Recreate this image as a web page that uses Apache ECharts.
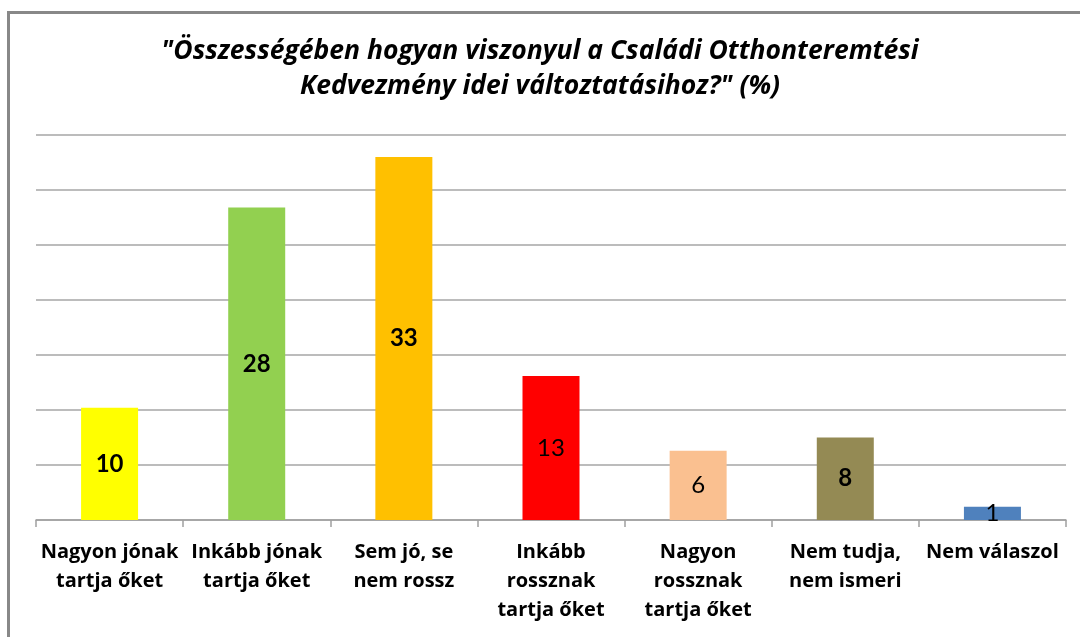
<!DOCTYPE html>
<html>
<head>
<meta charset="utf-8">
<script src="https://cdn.jsdelivr.net/npm/echarts@6/dist/echarts.min.js"></script>
<style>
  html, body { margin: 0; padding: 0; background: #fff; }
  #chart { width: 1080px; height: 637px; }
</style>
</head>
<body>
<div id="chart"></div>
<script>
const titleText = '"Összességében hogyan viszonyul a Családi Otthonteremtési\nKedvezmény idei változtatásihoz?" (%)'
const categories = [
  'Nagyon jónak\ntartja őket',
  'Inkább jónak\ntartja őket',
  'Sem jó, se\nnem rossz',
  'Inkább\nrossznak\ntartja őket',
  'Nagyon\nrossznak\ntartja őket',
  'Nem tudja,\nnem ismeri',
  'Nem válaszol',
]
// bar heights as drawn; labels show the rounded figure
const values = [10.2, 28.4, 33, 13.1, 6.3, 7.5, 1.2]
const colors = ['#ffff00', '#92d050', '#ffc000', '#ff0000', '#fac090', '#948a54', '#4f81bd']
const boldLabel = [true, true, true, false, false, true, false]

const chart = echarts.init(document.getElementById('chart'))

chart.setOption({
  animation: false,
  title: {
    text: titleText,
    left: 'center',
    top: 29,
    textStyle: {
      fontFamily: 'Open Sans',
      fontStyle: 'italic',
      fontWeight: 'bold',
      fontSize: 26.5,
      lineHeight: 35,
      color: '#000',
    },
  },
  graphic: [
    {
      type: 'polyline',
      shape: { points: [[8.5, 637], [8.5, 12.5], [1080, 12.5]] },
      style: { stroke: '#888', lineWidth: 3, fill: null },
      silent: true,
    },
  ],
  grid: { left: 36, right: 14, top: 135, bottom: 117 },
  xAxis: {
    type: 'category',
    data: categories,
    axisLine: { lineStyle: { color: '#a0a0a0', width: 1.5 } },
    axisTick: { show: true, length: 7, lineStyle: { color: '#a0a0a0', width: 1.5 } },
    axisLabel: {
      interval: 0,
      margin: 18,
      fontFamily: 'Open Sans',
      fontWeight: 'bold',
      fontSize: 20,
      lineHeight: 29,
      color: '#000',
    },
  },
  yAxis: {
    type: 'value',
    min: 0,
    max: 35,
    interval: 5,
    axisLabel: { show: false },
    axisLine: { show: false },
    axisTick: { show: false },
    splitLine: { lineStyle: { color: '#a6a6a6', width: 1.5 } },
  },
  series: [
    {
      type: 'bar',
      barWidth: 57,
      data: values.map((v, i) => ({
        value: v,
        itemStyle: { color: colors[i] },
        label: { fontWeight: boldLabel[i] ? 'bold' : 'normal' },
      })),
      label: {
        show: true,
        position: 'inside',
        formatter: (p) => Math.round(p.value),
        fontFamily: 'Lato',
        fontSize: 24,
        color: '#000',
      },
    },
  ],
})
</script>
</body>
</html>
